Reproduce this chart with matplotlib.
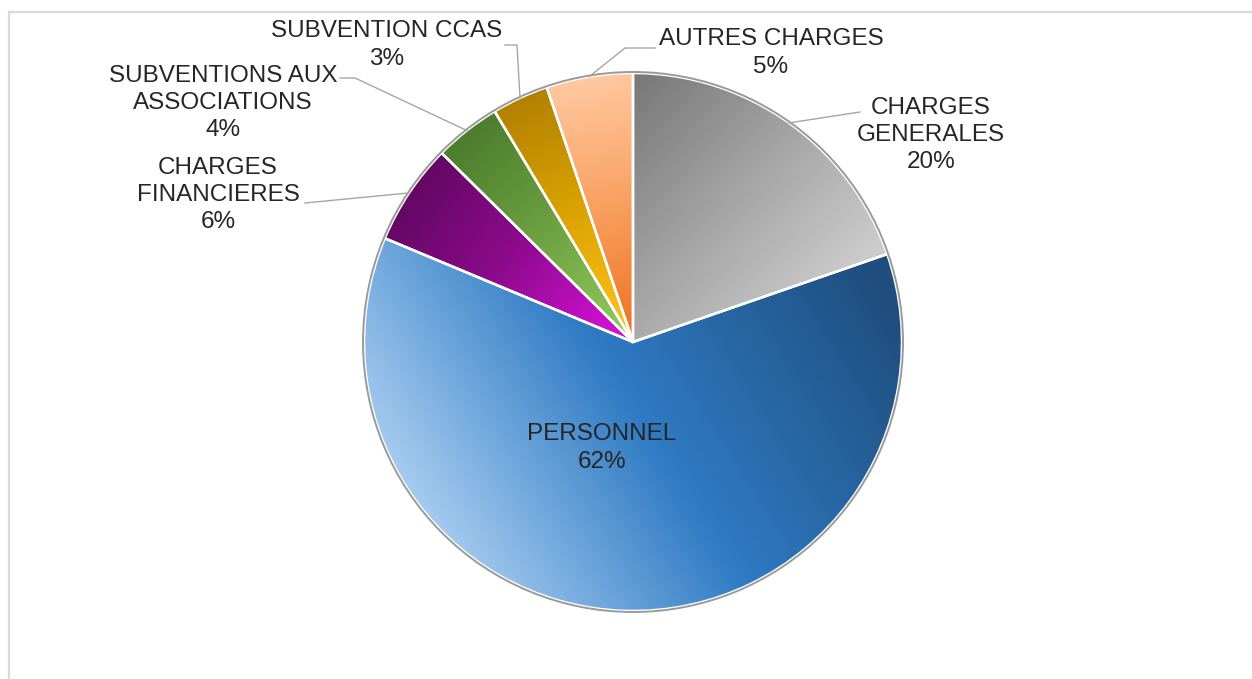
import numpy as np
import matplotlib
matplotlib.use("Agg")
import matplotlib.pyplot as plt
from matplotlib.colors import LinearSegmentedColormap
from matplotlib.patches import Circle

plt.rcParams['font.family'] = ['Liberation Sans', 'DejaVu Sans']

# ---- data ----
categories = ["CHARGES\nGENERALES", "PERSONNEL", "CHARGES\nFINANCIERES",
              "SUBVENTIONS AUX\nASSOCIATIONS", "SUBVENTION CCAS", "AUTRES CHARGES"]
values = [19.7, 61.6, 6.1, 4.0, 3.4, 5.2]
pct_labels = ["20%", "62%", "6%", "4%", "3%", "5%"]

# gradient colours (start -> end)
grad_colors = [
    ["#7a7a7a", "#a9a9a9", "#d6d6d6"],
    ["#1f4e7e", "#2f7bc4", "#b8d8f6"],
    ["#5e075e", "#8a0a8a", "#d010d0"],
    ["#4a7a2c", "#6ca040", "#92c95e"],
    ["#b07f00", "#dca400", "#ffc622"],
    ["#ffc8a0", "#f9a060", "#ee7424"],
]

W, H = 1252, 679
fig = plt.figure(figsize=(W / 100, H / 100), dpi=100)
ax = fig.add_axes([0, 0, 1, 1])

cx, cy, R = 633, H - 342, 269

wedges, _ = ax.pie(values, startangle=90, counterclock=False,
                   center=(cx, cy), radius=R,
                   wedgeprops=dict(edgecolor='white', linewidth=1.8))

# gradient directions in pixel coords (screen y down) : p0 -> p1
grad_dirs = [
    ((640, 80), (880, 300)),
    ((880, 290), (420, 580)),
    ((390, 190), (600, 340)),
    ((440, 140), (620, 340)),
    ((520, 90), (630, 340)),
    ((580, 80), (630, 330)),
]

yy, xx = np.mgrid[0:H, 0:W]
for w, cols, (p0, p1) in zip(wedges, grad_colors, grad_dirs):
    w.set_facecolor('none')
    cmap = LinearSegmentedColormap.from_list('g', cols)
    x0, y0 = p0
    x1, y1 = p1
    dx, dy = x1 - x0, (H - y1) - (H - y0)
    Yd = H - yy
    t = ((xx - x0) * dx + (Yd - (H - y0)) * dy) / (dx * dx + dy * dy)
    t = np.clip(t, 0, 1)
    im = ax.imshow(t, cmap=cmap, vmin=0, vmax=1, extent=(0, W, 0, H),
                   origin='upper', interpolation='bilinear', zorder=1)
    im.set_clip_path(w)
    w.set_zorder(2)

# outer rim
ax.add_patch(Circle((cx, cy), R + 1, facecolor='none', edgecolor='#9a9a9a',
                    linewidth=1.4, zorder=3))

# ---- labels ----
label_pos = [(931, 135), (602, 448), (218, 195), (223, 103), (387, 45), (771, 53)]
leaders = [
    [(860, 112)],
    None,
    [(305, 203)],
    [(355, 78), (340, 78)],
    [(517, 45), (505, 45)],
    [(625, 48), (655, 48)],
]

for w, cat, pct, (lx, ly), ld in zip(wedges, categories, pct_labels, label_pos, leaders):
    ax.text(lx, H - ly, cat + "\n" + pct, ha='center', va='center',
            fontsize=17.5, color='#262626', linespacing=1.3, zorder=5)
    if ld:
        ang = np.deg2rad((w.theta1 + w.theta2) / 2)
        sx, sy = cx + R * np.cos(ang), cy + R * np.sin(ang)
        xs = [sx] + [p[0] for p in ld]
        ys = [sy] + [H - p[1] for p in ld]
        ax.plot(xs, ys, color='#a6a6a6', linewidth=1.0, zorder=4)

ax.set_xlim(0, W)
ax.set_ylim(0, H)
ax.set_aspect('auto')
ax.axis('off')

# chart frame border
fig.add_artist(plt.Line2D([9 / W, 1], [1 - 12 / H, 1 - 12 / H],
                          color='#d9d9d9', linewidth=1.6, transform=fig.transFigure))
fig.add_artist(plt.Line2D([9 / W, 9 / W], [0, 1 - 12 / H],
                          color='#d9d9d9', linewidth=1.6, transform=fig.transFigure))

fig.savefig("out.png", dpi=100, facecolor='white')
